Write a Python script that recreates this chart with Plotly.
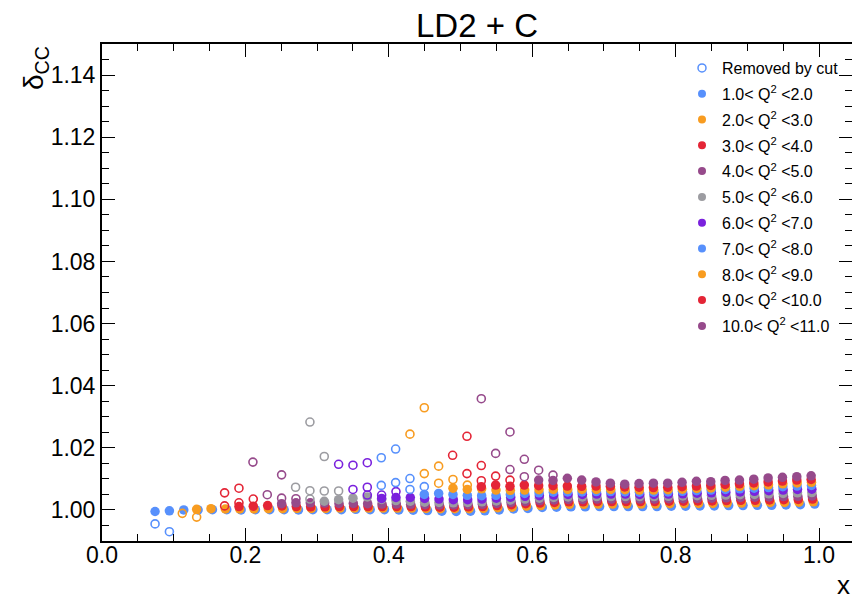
import plotly.graph_objects as go

# ---------------- data ----------------
x_bins = [0.07, 0.09, 0.11, 0.13, 0.15, 0.17, 0.19, 0.21, 0.23, 0.25,
          0.27, 0.29, 0.31, 0.33, 0.35, 0.37, 0.39, 0.41, 0.43, 0.45,
          0.47, 0.49, 0.51, 0.53, 0.55, 0.57, 0.59, 0.61, 0.63, 0.65,
          0.67, 0.69, 0.71, 0.73, 0.75, 0.77, 0.79, 0.81, 0.83, 0.85,
          0.87, 0.89, 0.91, 0.93, 0.95, 0.97, 0.99]

q2_labels = ["1.0< Q<sup>2</sup> <2.0", "2.0< Q<sup>2</sup> <3.0", "3.0< Q<sup>2</sup> <4.0",
             "4.0< Q<sup>2</sup> <5.0", "5.0< Q<sup>2</sup> <6.0", "6.0< Q<sup>2</sup> <7.0",
             "7.0< Q<sup>2</sup> <8.0", "8.0< Q<sup>2</sup> <9.0", "9.0< Q<sup>2</sup> <10.0",
             "10.0< Q<sup>2</sup> <11.0"]

colors = ["#5790fc", "#f89c20", "#e42536", "#964a8b", "#9c9ca1",
          "#7a21dd", "#5790fc", "#f89c20", "#e42536", "#964a8b"]

# first x bin of the kept (filled) points of each Q2 bin
x_first = [0.07, 0.13, 0.19, 0.25, 0.31, 0.39, 0.45, 0.49, 0.53, 0.61]
# mean-x shift of each Q2 bin inside an x bin
x_mean_shift = [0.004, 0.002, 0.001, 0.0005, 0.0, 0.0, -0.0005, -0.0005, -0.001, -0.001]

delta_1 = [0.9995, 0.9997, 1.0000, 1.0000, 1.0001, 1.0001, 1.0000, 1.0001, 1.0001, 1.0001,
           1.0000, 1.0001, 1.0001, 1.0001, 1.0002, 1.0001, 1.0001, 1.0000, 0.9999, 0.9998,
           0.9996, 0.9995, 0.9996, 0.9997, 1.0000, 1.0003, 1.0005, 1.0008, 1.0009, 1.0010,
           1.0010, 1.0011, 1.0011, 1.0011, 1.0011, 1.0011, 1.0012, 1.0012, 1.0013, 1.0013,
           1.0014, 1.0014, 1.0015, 1.0015, 1.0016, 1.0017, 1.0019]
delta_2 = [1.0002, 1.0004, 1.0003, 1.0003, 1.0003, 1.0004, 1.0004, 1.0005, 1.0005, 1.0005,
           1.0006, 1.0006, 1.0006, 1.0006, 1.0006, 1.0006, 1.0005, 1.0004, 1.0004, 1.0004,
           1.0005, 1.0007, 1.0009, 1.0012, 1.0014, 1.0016, 1.0018, 1.0018, 1.0019, 1.0019,
           1.0019, 1.0019, 1.0019, 1.0020, 1.0020, 1.0021, 1.0021, 1.0022, 1.0022, 1.0023,
           1.0024, 1.0024, 1.0025, 1.0026]
delta_3 = [1.0011, 1.0012, 1.0014, 1.0013, 1.0011, 1.0010, 1.0010, 1.0011, 1.0011, 1.0011,
           1.0011, 1.0011, 1.0011, 1.0010, 1.0009, 1.0009, 1.0010, 1.0011, 1.0014, 1.0017,
           1.0020, 1.0022, 1.0024, 1.0026, 1.0026, 1.0027, 1.0027, 1.0027, 1.0027, 1.0027,
           1.0028, 1.0028, 1.0029, 1.0029, 1.0030, 1.0031, 1.0031, 1.0032, 1.0033, 1.0034,
           1.0035]
delta_4 = [1.0020, 1.0023, 1.0023, 1.0022, 1.0021, 1.0021, 1.0020, 1.0019, 1.0019, 1.0018,
           1.0017, 1.0016, 1.0016, 1.0017, 1.0018, 1.0021, 1.0024, 1.0027, 1.0030, 1.0032,
           1.0034, 1.0034, 1.0035, 1.0035, 1.0035, 1.0035, 1.0035, 1.0036, 1.0036, 1.0037,
           1.0038, 1.0039, 1.0040, 1.0041, 1.0042, 1.0043, 1.0044, 1.0045]
delta_5 = [1.0028, 1.0033, 1.0038, 1.0042, 1.0034, 1.0030, 1.0028, 1.0025, 1.0024, 1.0023,
           1.0024, 1.0026, 1.0029, 1.0032, 1.0035, 1.0038, 1.0040, 1.0042, 1.0042, 1.0043,
           1.0043, 1.0043, 1.0043, 1.0043, 1.0044, 1.0045, 1.0046, 1.0047, 1.0048, 1.0049,
           1.0050, 1.0052, 1.0053, 1.0055, 1.0056]
delta_6 = [1.0037, 1.0040, 1.0040, 1.0037, 1.0035, 1.0033, 1.0033, 1.0035, 1.0038, 1.0041,
           1.0044, 1.0046, 1.0048, 1.0050, 1.0050, 1.0051, 1.0051, 1.0051, 1.0050, 1.0050,
           1.0051, 1.0052, 1.0054, 1.0055, 1.0057, 1.0058, 1.0060, 1.0062, 1.0064, 1.0066,
           1.0067]
delta_7 = [1.0050, 1.0053, 1.0050, 1.0047, 1.0046, 1.0047, 1.0050, 1.0053, 1.0055, 1.0057,
           1.0058, 1.0058, 1.0059, 1.0059, 1.0058, 1.0057, 1.0057, 1.0058, 1.0060, 1.0062,
           1.0064, 1.0066, 1.0068, 1.0070, 1.0072, 1.0075, 1.0077, 1.0079]
delta_8 = [1.0070, 1.0066, 1.0068, 1.0064, 1.0063, 1.0064, 1.0065, 1.0066, 1.0066, 1.0066,
           1.0066, 1.0066, 1.0065, 1.0064, 1.0064, 1.0065, 1.0067, 1.0069, 1.0071, 1.0073,
           1.0076, 1.0078, 1.0081, 1.0084, 1.0087, 1.0089]
delta_9 = [1.0075, 1.0080, 1.0076, 1.0080, 1.0078, 1.0078, 1.0077, 1.0076, 1.0077, 1.0076,
           1.0074, 1.0073, 1.0072, 1.0073, 1.0075, 1.0077, 1.0079, 1.0082, 1.0084, 1.0087,
           1.0090, 1.0093, 1.0096, 1.0098]
delta_10 = [1.0096, 1.0095, 1.0102, 1.0096, 1.0090, 1.0086, 1.0083, 1.0085, 1.0086, 1.0086,
            1.0089, 1.0092, 1.0091, 1.0095, 1.0096, 1.0099, 1.0103, 1.0105, 1.0107, 1.0110]

# points removed by the cut (open markers)
cut_x_1 = [0.07, 0.09]
cut_d_1 = [0.9955, 0.9930]
cut_x_2 = [0.11, 0.13]
cut_d_2 = [0.9989, 0.9977]
cut_x_3 = [0.17, 0.17, 0.19, 0.19, 0.21]
cut_d_3 = [1.0055, 1.0013, 1.0070, 1.0023, 1.0035]
cut_x_4 = [0.21, 0.23, 0.25, 0.25, 0.27]
cut_d_4 = [1.0154, 1.0049, 1.0113, 1.0038, 1.0036]
cut_x_5 = [0.27, 0.29, 0.29, 0.29, 0.31, 0.31, 0.33]
cut_d_5 = [1.0073, 1.0283, 1.0062, 1.0035, 1.0172, 1.0061, 1.0061]
cut_x_6 = [0.33, 0.35, 0.35, 0.37, 0.37, 0.37, 0.39, 0.41]
cut_d_6 = [1.0147, 1.0144, 1.0066, 1.0152, 1.0073, 1.0048, 1.0048, 1.0059]
cut_x_7 = [0.39, 0.39, 0.41, 0.41, 0.43, 0.43, 0.45]
cut_d_7 = [1.0168, 1.0079, 1.0196, 1.0088, 1.0101, 1.0066, 1.0075]
cut_x_8 = [0.43, 0.45, 0.45, 0.47, 0.47, 0.49, 0.51]
cut_d_8 = [1.0244, 1.0329, 1.0117, 1.0141, 1.0086, 1.0098, 1.0080]
cut_x_9 = [0.49, 0.51, 0.51, 0.53, 0.53, 0.55, 0.57]
cut_d_9 = [1.0176, 1.0237, 1.0117, 1.0143, 1.0094, 1.0109, 1.0096]
cut_x_10 = [0.53, 0.55, 0.57, 0.57, 0.59, 0.59, 0.61, 0.63]
cut_d_10 = [1.0358, 1.0182, 1.0251, 1.0130, 1.0163, 1.0107, 1.0128, 1.0112]

kept_deltas = [delta_1, delta_2, delta_3, delta_4, delta_5,
               delta_6, delta_7, delta_8, delta_9, delta_10]
cut_xs = [cut_x_1, cut_x_2, cut_x_3, cut_x_4, cut_x_5,
          cut_x_6, cut_x_7, cut_x_8, cut_x_9, cut_x_10]
cut_ds = [cut_d_1, cut_d_2, cut_d_3, cut_d_4, cut_d_5,
          cut_d_6, cut_d_7, cut_d_8, cut_d_9, cut_d_10]

title_text = "LD2 + C"
legend_removed = "Removed by cut"

# ---------------- figure ----------------
# page body margin is removed (post_script), so figure pixels == window pixels
W, H = 852, 598
L, T, R = 102, 44, 0
B = H - 541
PW, PH = W - L - R, H - T - B


def px_x(p):  # window pixel -> paper x
    return (p - L) / PW


def px_y(p):  # window pixel -> paper y
    return (H - B - p) / PH


FONT = "Liberation Sans, Arial, Helvetica, sans-serif"

fig = go.Figure()

for k in range(10):
    i0 = x_bins.index(x_first[k])
    xs = [x + x_mean_shift[k] for x in x_bins[i0:]]
    ys = kept_deltas[k]
    assert len(xs) == len(ys), (k, len(xs), len(ys))
    fig.add_trace(go.Scatter(
        x=xs, y=ys, mode="markers", showlegend=False, hoverinfo="skip",
        marker=dict(symbol="circle", size=9.5, color=colors[k], line=dict(width=0))))
    fig.add_trace(go.Scatter(
        x=[x + x_mean_shift[k] for x in cut_xs[k]], y=cut_ds[k], mode="markers",
        showlegend=False, hoverinfo="skip",
        marker=dict(symbol="circle-open", size=8, color=colors[k], line=dict(width=1.6))))

# legend entries
fig.add_trace(go.Scatter(
    x=[None], y=[None], mode="markers", name=legend_removed, legendgroup="g0",
    marker=dict(symbol="circle-open", size=8, color=colors[0], line=dict(width=1.5))))
for k in range(10):
    fig.add_trace(go.Scatter(
        x=[None], y=[None], mode="markers", name=q2_labels[k], legendgroup="g%d" % (k + 1),
        marker=dict(symbol="circle", size=8, color=colors[k])))

# invisible trace to host the right-hand tick axis
fig.add_trace(go.Scatter(x=[None], y=[None], yaxis="y2", showlegend=False, hoverinfo="skip"))

tick_common = dict(ticks="inside", tickcolor="black", tickwidth=1, showgrid=False,
                   zeroline=False, automargin=False)

fig.update_layout(
    width=W, height=H,
    margin=dict(l=L, r=R, t=T, b=B, pad=0, autoexpand=False),
    paper_bgcolor="white", plot_bgcolor="white",
    font=dict(family=FONT, color="black"),
    title=dict(text=title_text, font=dict(size=33, family=FONT, color="black"),
               xref="container", yref="container", x=477 / W, xanchor="center",
               y=1 - 25 / H, yanchor="middle"),
    xaxis=dict(range=[0, 1.046], tickmode="linear", tick0=0, dtick=0.2, tickformat=".1f",
               ticklen=13, showline=True, linewidth=2, linecolor="black", mirror="ticks",
               tickfont=dict(size=23, family=FONT, color="black"), ticklabelstandoff=-8,
               minor=dict(tickmode="linear", tick0=0, dtick=0.05, ticklen=7, ticks="inside",
                          tickcolor="black", tickwidth=1, showgrid=False),
               **tick_common),
    yaxis=dict(range=[0.99, 1.15], tickmode="linear", tick0=1.0, dtick=0.02, tickformat=".2f",
               ticklen=13, showline=True, linewidth=2, linecolor="black", mirror=False,
               tickfont=dict(size=23, family=FONT, color="black"),
               minor=dict(tickmode="linear", tick0=1.0, dtick=0.005, ticklen=7, ticks="inside",
                          tickcolor="black", tickwidth=1, showgrid=False),
               **tick_common),
    yaxis2=dict(range=[0.99, 1.15], overlaying="y", side="right", anchor="x",
                tickmode="linear", tick0=1.0, dtick=0.02, ticklen=13, showticklabels=False,
                showline=False,
                minor=dict(tickmode="linear", tick0=1.0, dtick=0.005, ticklen=7, ticks="inside",
                           tickcolor="black", tickwidth=1, showgrid=False),
                **tick_common),
    legend=dict(x=px_x(682), y=px_y(51), xanchor="left", yanchor="top",
                bgcolor="rgba(0,0,0,0)", borderwidth=0,
                font=dict(size=16, family=FONT, color="black"),
                traceorder="grouped", tracegroupgap=2, itemsizing="trace"),
    annotations=[
        dict(text="δ<sub>CC</sub>", xref="paper", yref="paper", x=px_x(35), y=px_y(68),
             xanchor="center", yanchor="middle", showarrow=False, textangle=-90,
             font=dict(size=28, family=FONT, color="black")),
        dict(text="x", xref="paper", yref="paper", x=px_x(843), y=px_y(585),
             xanchor="center", yanchor="middle", showarrow=False,
             font=dict(size=26, family=FONT, color="black")),
    ],
)

fig.write_html(
    "out.html",
    config={"displayModeBar": False},
    post_script="document.body.style.margin='0px';document.body.style.overflow='hidden';",
)
